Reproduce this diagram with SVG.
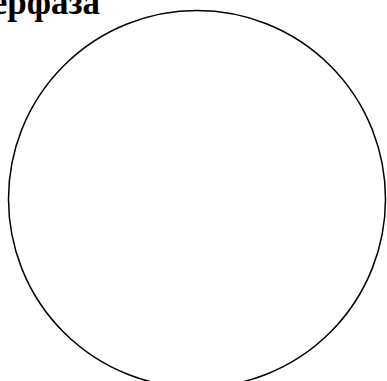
<svg xmlns="http://www.w3.org/2000/svg" width="387" height="381" viewBox="0 0 387 381">
<style>
.t{font-family:"Liberation Serif","Times New Roman",serif;font-weight:bold;font-size:35px;fill:#000}
.c{fill:none;stroke:#000;stroke-width:1.5}
</style>
<rect width="387" height="381" fill="#fff"/>
<g id="title"><text class="t" x="100" y="14" text-anchor="end">ерфаза</text></g>
<g id="cell"><circle class="c" cx="197" cy="199" r="188.5"/></g>
<g id="connectors"></g>
</svg>
